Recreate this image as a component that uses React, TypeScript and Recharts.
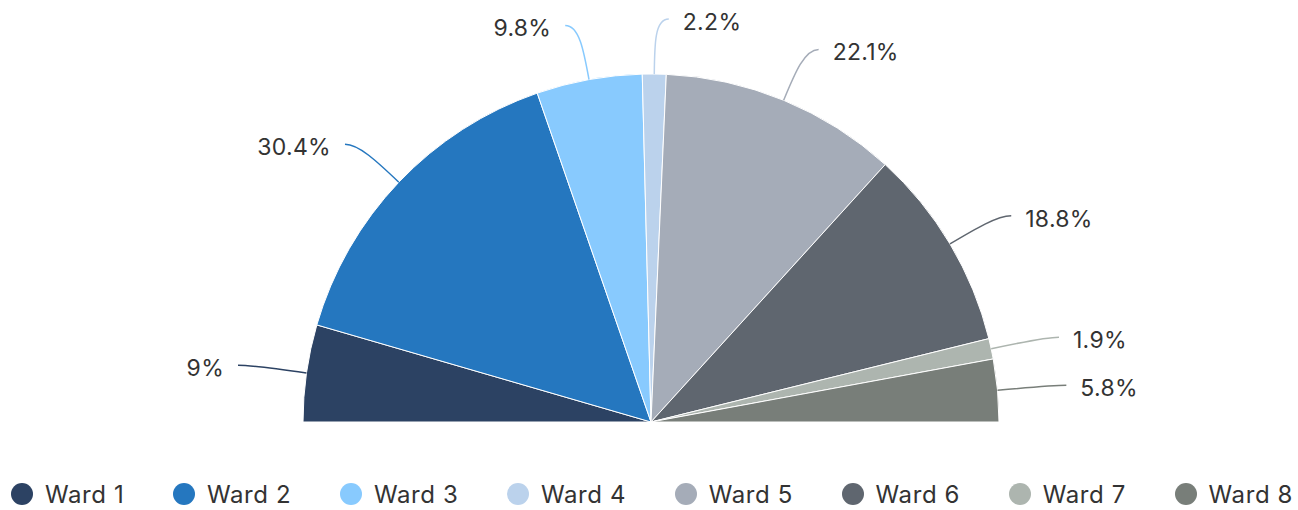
import React from 'react';
import { PieChart, Pie, Cell, Legend } from 'recharts';

const wards = ['Ward 1', 'Ward 2', 'Ward 3', 'Ward 4', 'Ward 5', 'Ward 6', 'Ward 7', 'Ward 8'];
const shares = [9, 30.4, 9.8, 2.2, 22.1, 18.8, 1.9, 5.8];
const colors = ['#2C4263', '#2577BF', '#88CAFE', '#BBD2EC', '#A5ACB8', '#5F666F', '#ADB5AF', '#787E79'];

const data = wards.map((name, i) => ({ name, value: shares[i] }));

const FONT = 'Inter, "Open Sans", sans-serif';
const TEXT = '#333333';

function renderLabel(props: any) {
  const { cx, cy, midAngle, outerRadius, index, value } = props;
  const rad = (-midAngle * Math.PI) / 180;
  const cos = Math.cos(rad);
  const sin = Math.sin(rad);
  const right = cos >= 0;
  const sign = right ? 1 : -1;
  const sx = cx + outerRadius * cos;
  const sy = cy + outerRadius * sin;
  const mr = outerRadius + 55;
  const mx = cx + mr * cos;
  const my = cy + mr * sin;
  const ex = mx + sign * 14;
  const ey = my;
  const c1x = sx + cos * 30;
  const c1y = sy + sin * 30;
  const d = `M${sx},${sy} C${c1x},${c1y} ${mx},${my} ${ex},${ey}`;
  return (
    <g key={`lbl-${index}`}>
      <path d={d} fill="none" stroke={colors[index]} strokeWidth={1.5} />
      <text
        x={ex + sign * 14}
        y={ey + 3}
        textAnchor={right ? 'start' : 'end'}
        dominantBaseline="central"
        fill={TEXT}
        fontFamily={FONT}
        fontSize={23}
        letterSpacing={0.3}
      >
        {`${value}%`}
      </text>
    </g>
  );
}

function renderLegend() {
  return (
    <div
      style={{
        display: 'flex',
        justifyContent: 'space-between',
        alignItems: 'center',
        padding: '0 5px 0 11px',
        height: 32,
        fontFamily: FONT,
        fontSize: 24,
        letterSpacing: 0.6,
        color: TEXT,
      }}
    >
      {wards.map((w, i) => (
        <div key={w} style={{ display: 'flex', alignItems: 'center' }}>
          <span
            style={{
              display: 'inline-block',
              width: 22,
              height: 22,
              borderRadius: '50%',
              background: colors[i],
              marginRight: 12,
            }}
          />
          <span>{w}</span>
        </div>
      ))}
    </div>
  );
}

export default function App() {
  return (
    <div style={{ position: 'absolute', left: 0, top: 0, width: 1298, height: 510, background: '#fff' }}>
      <PieChart width={1298} height={510} margin={{ top: 0, right: 0, bottom: 0, left: 0 }}>
        <Pie
          data={data}
          dataKey="value"
          nameKey="name"
          cx={651}
          cy={422}
          outerRadius={348}
          startAngle={180}
          endAngle={0}
          stroke="#ffffff"
          strokeWidth={1}
          label={renderLabel}
          labelLine={false}
          isAnimationActive={false}
        >
          {data.map((d, i) => (
            <Cell key={d.name} fill={colors[i]} />
          ))}
        </Pie>
        <Legend
          content={renderLegend}
          wrapperStyle={{ position: 'absolute', left: 0, top: 478, width: 1298, height: 32 }}
        />
      </PieChart>
    </div>
  );
}
